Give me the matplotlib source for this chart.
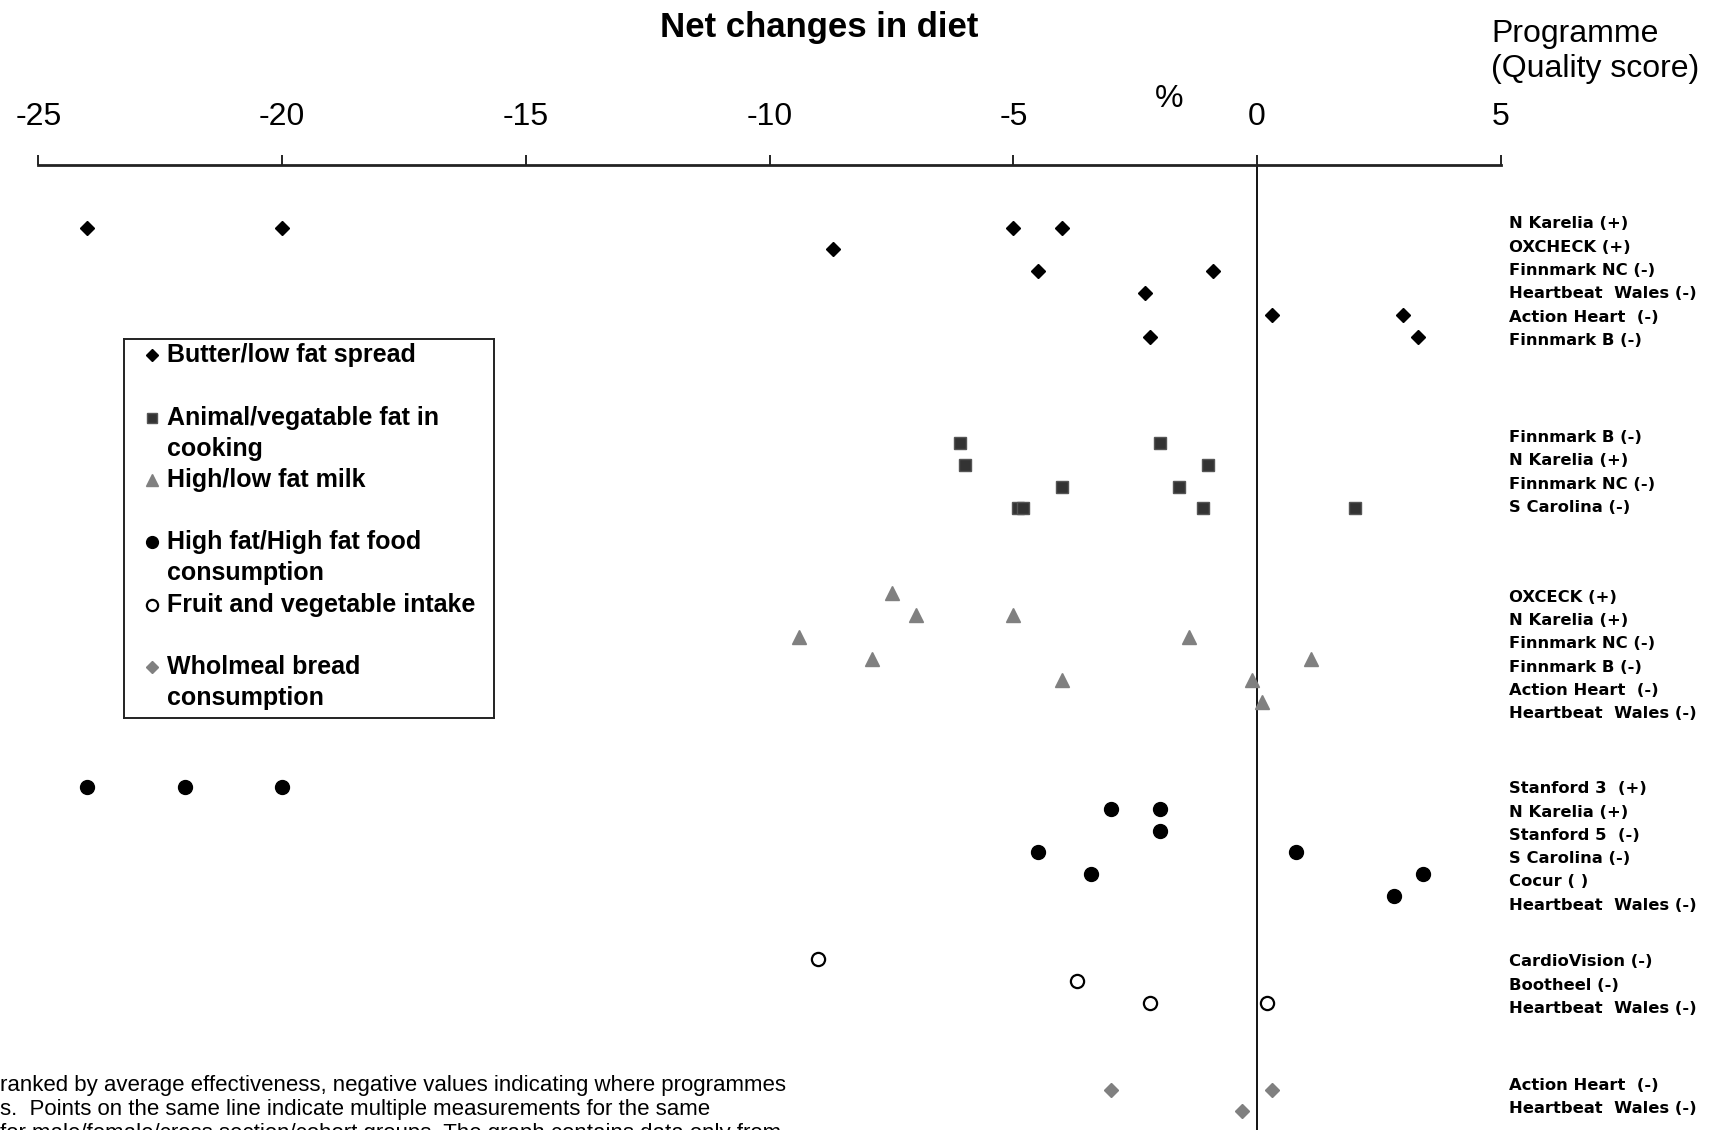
import matplotlib
matplotlib.use("Agg")
import matplotlib.pyplot as plt

ARIAL = ["Liberation Sans", "DejaVu Sans"]

# programme labels and net % change, one list of points per programme row
butter_progs = ["N Karelia (+)", "OXCHECK (+)", "Finnmark NC (-)",
                "Heartbeat  Wales (-)", "Action Heart  (-)", "Finnmark B (-)"]
butter_vals = [[-24, -20, -5, -4], [-8.7], [-4.5, -0.9], [-2.3],
               [0.3, 3.0], [-2.2, 3.3]]

fat_progs = ["Finnmark B (-)", "N Karelia (+)", "Finnmark NC (-)", "S Carolina (-)"]
fat_vals = [[-6.1, -2.0], [-6.0, -1.0], [-4.0, -1.6], [-4.9, -4.8, -1.1, 2.0]]

milk_progs = ["OXCECK (+)", "N Karelia (+)", "Finnmark NC (-)", "Finnmark B (-)",
              "Action Heart  (-)", "Heartbeat  Wales (-)"]
milk_vals = [[-7.5], [-7.0, -5.0], [-9.4, -1.4], [-7.9, 1.1], [-4.0, -0.1], [0.1]]

hifat_progs = ["Stanford 3  (+)", "N Karelia (+)", "Stanford 5  (-)",
               "S Carolina (-)", "Cocur ( )", "Heartbeat  Wales (-)"]
hifat_vals = [[-24, -22, -20], [-3.0, -2.0], [-2.0], [-4.5, 0.8], [-3.4, 3.4], [2.8]]

fruit_progs = ["CardioVision (-)", "Bootheel (-)", "Heartbeat  Wales (-)"]
fruit_vals = [[-9.0], [-3.7], [-2.2, 0.2]]

bread_progs = ["Action Heart  (-)", "Heartbeat  Wales (-)"]
bread_vals = [[-3.0, 0.3], [-0.3]]

legend_labels = ["Butter/low fat spread", "Animal/vegatable fat in\ncooking",
                 "High/low fat milk", "High fat/High fat food\nconsumption",
                 "Fruit and vegetable intake", "Wholmeal bread\nconsumption"]

xticks = [-25, -20, -15, -10, -5, 0, 5]

note_lines = [
    "ranked by average effectiveness, negative values indicating where programmes",
    "s.  Points on the same line indicate multiple measurements for the same",
    "for male/female/cross section/cohort groups. The graph contains data only from",
]

groups = [butter_vals, fat_vals, milk_vals, hifat_vals, fruit_vals, bread_vals]
progs = [butter_progs, fat_progs, milk_progs, hifat_progs, fruit_progs, bread_progs]
group_start = [0, 9.9, 16.8, 25.7, 33.6, 39.6]
label_shift = [0.0, -0.15, 0.35, 0.25, 0.2, -0.15]
styles = [
    dict(marker="D", color="black", ms=7.2, mec="black"),
    dict(marker="s", color="#333333", ms=8, mec="#555555"),
    dict(marker="^", color="#808080", ms=10, mec="#808080"),
    dict(marker="o", color="black", ms=10, mec="black"),
    dict(marker="o", color="white", ms=9.5, mec="black", mew=1.6),
    dict(marker="D", color="#808080", ms=7.2, mec="#808080"),
]

fig = plt.figure(figsize=(17.24, 11.3), dpi=100)
ax = fig.add_axes([0.02233, 0.0, 0.8482, 0.854])

for vals, start, st in zip(groups, group_start, styles):
    for i, row in enumerate(vals):
        ax.plot(row, [start + i] * len(row), linestyle="none", zorder=3, **st)

# programme names on the right
for names_, vals, start, sh in zip(progs, groups, group_start, label_shift):
    center = start + (len(vals) - 1) / 2
    n = len(names_)
    for i, nm in enumerate(names_):
        y = center + (i - (n - 1) / 2) * 1.07 + sh
        ax.text(1.0055, y, nm, transform=ax.get_yaxis_transform(),
                fontsize=11.8, fontweight="bold", family="DejaVu Sans",
                va="center", ha="left")

ax.set_xlim(-25, 5)
ax.set_ylim(41.45, -2.88)
ax.axvline(0, color="black", lw=1.3, zorder=1)

ax.xaxis.tick_top()
ax.set_xticks(xticks)
ax.set_xticklabels([str(t) for t in xticks], family=ARIAL, fontsize=23)
ax.tick_params(axis="x", direction="out", length=7, width=1.2, pad=17)
ax.set_yticks([])
for s in ["left", "right", "bottom"]:
    ax.spines[s].set_visible(False)
ax.spines["top"].set_linewidth(2)
ax.spines["top"].set_color("#222222")

fig.text(0.475, 0.976, "Net changes in diet", ha="center", va="center",
         fontsize=25, fontweight="bold", family=ARIAL)
fig.text(0.678, 0.912, "%", ha="center", va="center", fontsize=23, family=ARIAL)
fig.text(0.865, 0.9700, "Programme", ha="left", va="center", fontsize=23, family=ARIAL)
fig.text(0.865, 0.9390, "(Quality score)", ha="left", va="center", fontsize=23, family=ARIAL)

# legend box
lax = fig.add_axes([0.072, 0.3646, 0.2144, 0.3357])
lax.set_xlim(0, 1)
lax.set_ylim(11.64, -0.53)
lax.set_xticks([])
lax.set_yticks([])
for s in lax.spines.values():
    s.set_linewidth(1.4)
    s.set_color("#222222")
line_idx = [0, 2, 4, 6, 8, 10]
for lab, idx, st in zip(legend_labels, line_idx, styles):
    lst = dict(st)
    lst["ms"] = st["ms"] * 0.85
    lax.plot([0.076], [idx], linestyle="none", **lst)
    for j, line in enumerate(lab.split("\n")):
        lax.text(0.115, idx + j, line, va="center", ha="left",
                 fontsize=18, fontweight="bold", family=ARIAL)

for k, line in enumerate(note_lines):
    fig.text(0.0, 1 - (1085 + 24 * k) / 1130, line, ha="left", va="center",
             fontsize=16.0, family=ARIAL)

fig.savefig("out.png", dpi=100)
